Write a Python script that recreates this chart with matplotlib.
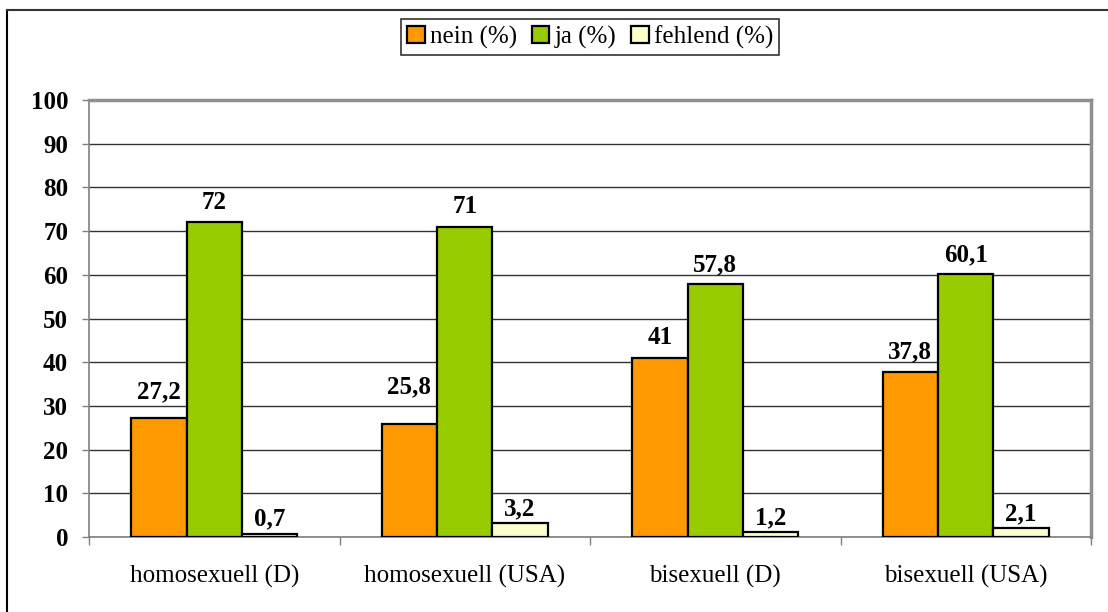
import matplotlib
matplotlib.use("Agg")
import matplotlib.pyplot as plt
from matplotlib.lines import Line2D
import numpy as np

categories = ["homosexuell (D)", "homosexuell (USA)", "bisexuell (D)", "bisexuell (USA)"]
series_names = ["nein (%)", "ja (%)", "fehlend (%)"]
nein = [27.2, 25.8, 41, 37.8]
ja = [72, 71, 57.8, 60.1]
fehlend = [0.7, 3.2, 1.2, 2.1]
colors = ["#FF9900", "#99CC00", "#FFFFCC"]
yticks = [0, 10, 20, 30, 40, 50, 60, 70, 80, 90, 100]

# label offsets above bars (points), per series
label_offsets = [[11, 19, 6, 6], [6, 6, 6, 6], [2.5, 2, 2, 2]]

plt.rcParams['font.family'] = ['Liberation Serif', 'DejaVu Serif']

W, H = 1108, 612
fig = plt.figure(figsize=(W / 100, H / 100), dpi=100)
ax = fig.add_axes([89 / W, 75 / H, 1002 / W, 437 / H])

x = np.arange(len(categories))
bw = 0.221
series = [nein, ja, fehlend]
for i, (vals, name, c) in enumerate(zip(series, series_names, colors)):
    pos = x + (i - 1) * bw
    bars = ax.bar(pos, vals, width=bw, color=c, edgecolor="black", linewidth=1.6,
                  label=name, zorder=3)
    for b, v, off in zip(bars, vals, label_offsets[i]):
        txt = f"{v:g}".replace(".", ",")
        ax.annotate(txt, (b.get_x() + b.get_width() / 2, v), xytext=(0, off),
                    textcoords="offset points", ha="center", va="bottom",
                    fontsize=18, fontweight="bold", zorder=4)

ax.set_xlim(-0.5, len(categories) - 0.5)
ax.set_ylim(0, 100)
ax.set_yticks(yticks)
ax.set_yticklabels([str(t) for t in yticks], fontsize=18, fontweight="bold")
ax.tick_params(axis="y", length=5, width=1, color="#808080", pad=10)

ax.set_xticks(x)
ax.set_xticklabels(categories, fontsize=18)
ax.set_xticks(np.arange(-0.5, len(categories)), minor=True)
ax.tick_params(axis="x", which="major", length=0, pad=20)
ax.tick_params(axis="x", which="minor", length=6, width=1, color="#808080", direction="out")

ax.grid(axis="y", color="#333333", linewidth=1, zorder=0)
ax.set_axisbelow(True)
for s in ["top", "right"]:
    ax.spines[s].set_color("#909090")
    ax.spines[s].set_linewidth(2.5)
for s in ["left", "bottom"]:
    ax.spines[s].set_color("#808080")
    ax.spines[s].set_linewidth(1.2)

leg = fig.legend(loc="center", bbox_to_anchor=(590 / W, 1 - 37 / H), ncol=3,
                 fontsize=18, frameon=True, fancybox=False, edgecolor="black",
                 handlelength=0.7, handleheight=0.7, handletextpad=0.2,
                 columnspacing=0.6, borderpad=0.25, borderaxespad=0)
leg.get_frame().set_linewidth(1.2)

# outer frame (top and left visible)
fig.add_artist(Line2D([7 / W, 7 / W], [0, 1 - 10 / H], transform=fig.transFigure,
                      color="black", linewidth=1.5))
fig.add_artist(Line2D([7 / W, 1], [1 - 10 / H, 1 - 10 / H], transform=fig.transFigure,
                      color="#333333", linewidth=1.5))

fig.savefig("out.png", dpi=100)
